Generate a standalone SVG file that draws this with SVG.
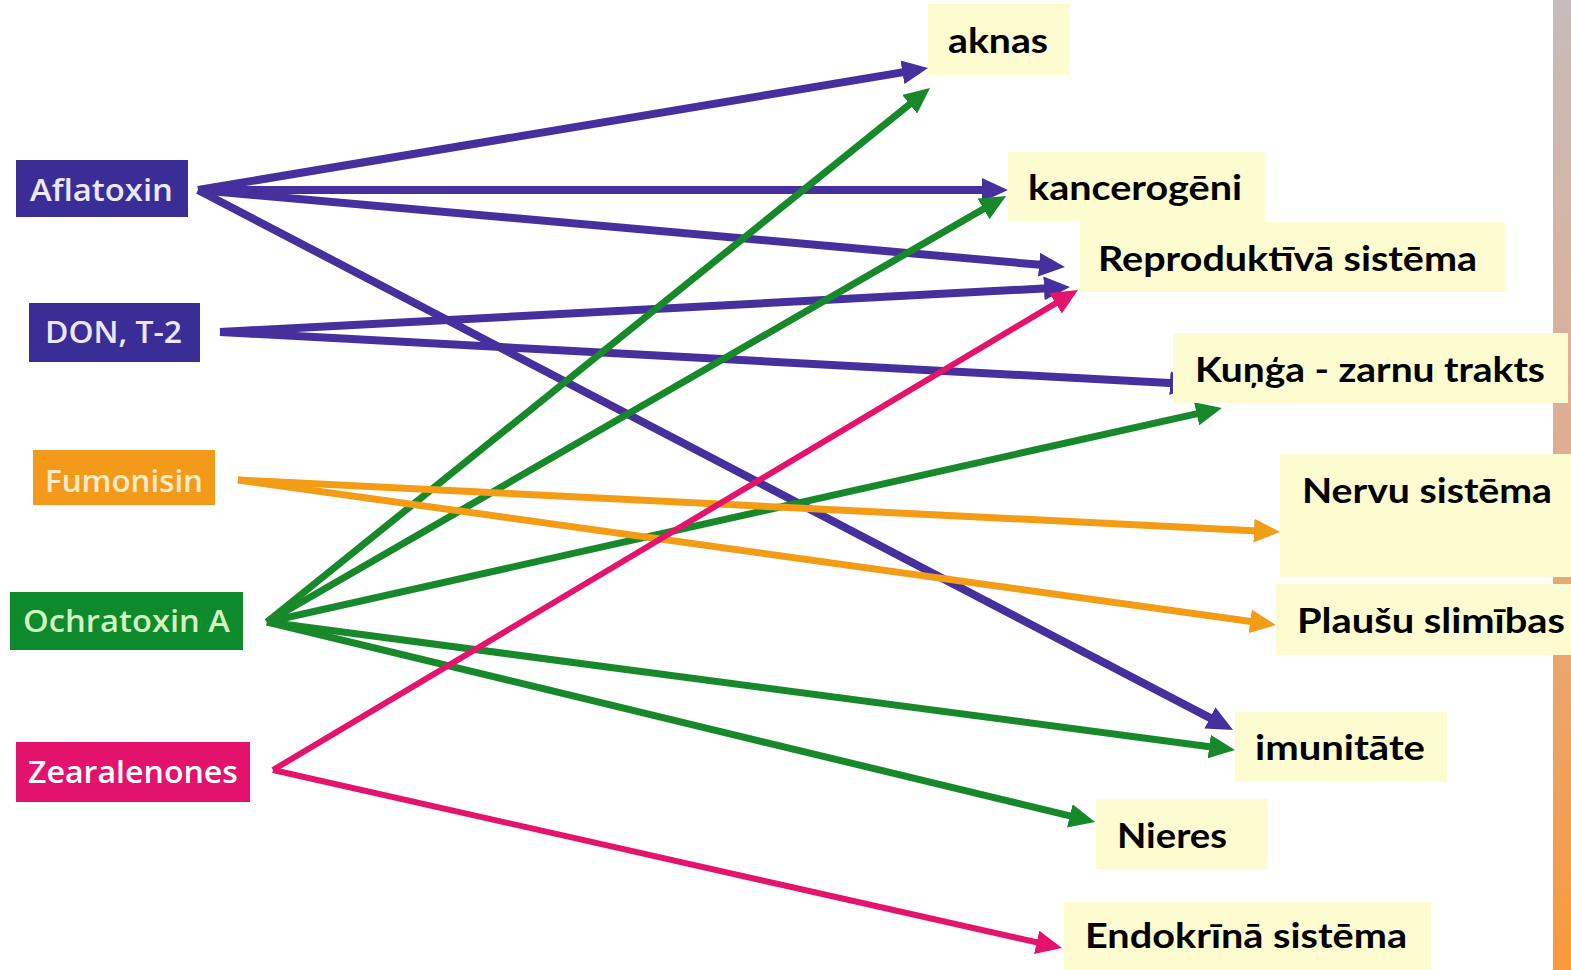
<svg xmlns="http://www.w3.org/2000/svg" width="1571" height="970" viewBox="0 0 1571 970">
<defs>
<style>
.src text{font-family:"Open Sans","Liberation Sans",sans-serif;font-weight:600;font-size:31px}
.tgt rect{fill:#fdfbd0}
.tgt text{font-family:Lato,"Open Sans","Liberation Sans",sans-serif;font-weight:700;font-size:35px;fill:#000}
.c{fill:none}
.pu{stroke:#46309e;stroke-width:8}
.gr{stroke:#17892b;stroke-width:7}
.or{stroke:#f39c16;stroke-width:7}
.pk{stroke:#e4136c;stroke-width:6}
</style>
<linearGradient id="bar" x1="0" y1="0" x2="0" y2="1">
<stop offset="0" stop-color="#c6bcba"/>
<stop offset="0.45" stop-color="#dfae92"/>
<stop offset="1" stop-color="#f89a3c"/>
</linearGradient>
<marker id="apu" viewBox="0 0 24 22" refX="4" refY="11" markerWidth="26" markerHeight="24" markerUnits="userSpaceOnUse" orient="auto"><path d="M0,0 L24,11 L0,22 Z" fill="#46309e"/></marker>
<marker id="agr" viewBox="0 0 24 22" refX="4" refY="11" markerWidth="26" markerHeight="24" markerUnits="userSpaceOnUse" orient="auto"><path d="M0,0 L24,11 L0,22 Z" fill="#17892b"/></marker>
<marker id="aor" viewBox="0 0 24 22" refX="4" refY="11" markerWidth="26" markerHeight="24" markerUnits="userSpaceOnUse" orient="auto"><path d="M0,0 L24,11 L0,22 Z" fill="#f39c16"/></marker>
<marker id="apk" viewBox="0 0 24 22" refX="4" refY="11" markerWidth="26" markerHeight="24" markerUnits="userSpaceOnUse" orient="auto"><path d="M0,0 L24,11 L0,22 Z" fill="#e4136c"/></marker>
</defs>
<rect x="0" y="0" width="1571" height="970" fill="#ffffff"/>
<rect x="1553" y="0" width="18" height="970" fill="url(#bar)"/>
<g id="connectors">
<path class="c pu" d="M198,190 L906.7,71.6" marker-end="url(#apu)"/>
<path class="c pu" d="M198,190 L986.3,190" marker-end="url(#apu)"/>
<path class="c pu" d="M198,190 L1043.4,265.1" marker-end="url(#apu)"/>
<path class="c pu" d="M198,190 L1213.8,719.9" marker-end="url(#apu)"/>
<path class="c pu" d="M220,332 L1048.3,288.2" marker-end="url(#apu)"/>
<path class="c pu" d="M220,332 L1174.3,383.3" marker-end="url(#apu)"/>
<path class="c gr" d="M267,622 L913.1,101.6" marker-end="url(#agr)"/>
<path class="c gr" d="M267,622 L987.3,206.8" marker-end="url(#agr)"/>
<path class="c gr" d="M267,622 L1200.8,412.8" marker-end="url(#agr)"/>
<path class="c gr" d="M267,622 L1213.5,747.2" marker-end="url(#agr)"/>
<path class="c gr" d="M267,622 L1074,816.9" marker-end="url(#agr)"/>
<path class="c or" d="M238,480 L1258.3,530.9" marker-end="url(#aor)"/>
<path class="c or" d="M238,480 L1254.5,622" marker-end="url(#aor)"/>
<path class="c pk" d="M273,770 L1059.4,301.1" marker-end="url(#apk)"/>
<path class="c pk" d="M273,770 L1040.9,943.3" marker-end="url(#apk)"/>
</g>
<g id="aflatoxin" class="src"><rect x="16" y="160" width="172" height="57" fill="#3a2d96"/><text x="30" y="201" textLength="143" lengthAdjust="spacingAndGlyphs" fill="#ebe8f7">Aflatoxin</text></g>
<g id="don" class="src"><rect x="29" y="303" width="171" height="59" fill="#3a2d96"/><text x="45" y="343" textLength="137" lengthAdjust="spacingAndGlyphs" fill="#ebe8f7">DON, T-2</text></g>
<g id="fumonisin" class="src"><rect x="33" y="450" width="182" height="55" fill="#f39a1b"/><text x="45" y="492" textLength="158" lengthAdjust="spacingAndGlyphs" fill="#fdebc8">Fumonisin</text></g>
<g id="ochratoxin" class="src"><rect x="10" y="592" width="233" height="58" fill="#0d8a2b"/><text x="23" y="632" textLength="207" lengthAdjust="spacingAndGlyphs" fill="#d3f2c0">Ochratoxin A</text></g>
<g id="zearalenones" class="src"><rect x="16" y="742" width="234" height="60" fill="#e3126c"/><text x="28" y="783" textLength="210" lengthAdjust="spacingAndGlyphs" fill="#ffffff">Zearalenones</text></g>
<g id="aknas" class="tgt"><rect x="928" y="4" width="142" height="71"/><text x="948" y="53" textLength="100" lengthAdjust="spacingAndGlyphs">aknas</text></g>
<g id="kancerogeni" class="tgt"><rect x="1008" y="152" width="257" height="70"/><text x="1028" y="200" textLength="214" lengthAdjust="spacingAndGlyphs">kancerogēni</text></g>
<g id="reproduktiva" class="tgt"><rect x="1080" y="222" width="425" height="70"/><text x="1098" y="271" textLength="379" lengthAdjust="spacingAndGlyphs">Reproduktīvā sistēma</text></g>
<g id="kunga" class="tgt"><rect x="1173" y="333" width="395" height="70"/><text x="1195" y="382" textLength="350" lengthAdjust="spacingAndGlyphs">Kuņģa - zarnu trakts</text></g>
<g id="nervu" class="tgt"><rect x="1280" y="454" width="291" height="123"/><text x="1302" y="503" textLength="250" lengthAdjust="spacingAndGlyphs">Nervu sistēma</text></g>
<g id="plausu" class="tgt"><rect x="1276" y="584" width="295" height="71"/><text x="1297" y="633" textLength="268" lengthAdjust="spacingAndGlyphs">Plaušu slimības</text></g>
<g id="imunitate" class="tgt"><rect x="1235" y="712" width="212" height="70"/><text x="1255" y="760" textLength="170" lengthAdjust="spacingAndGlyphs">imunitāte</text></g>
<g id="nieres" class="tgt"><rect x="1096" y="799" width="172" height="70"/><text x="1117" y="848" textLength="110" lengthAdjust="spacingAndGlyphs">Nieres</text></g>
<g id="endokrina" class="tgt"><rect x="1064" y="902" width="367" height="68"/><text x="1085" y="948" textLength="322" lengthAdjust="spacingAndGlyphs">Endokrīnā sistēma</text></g>
</svg>
